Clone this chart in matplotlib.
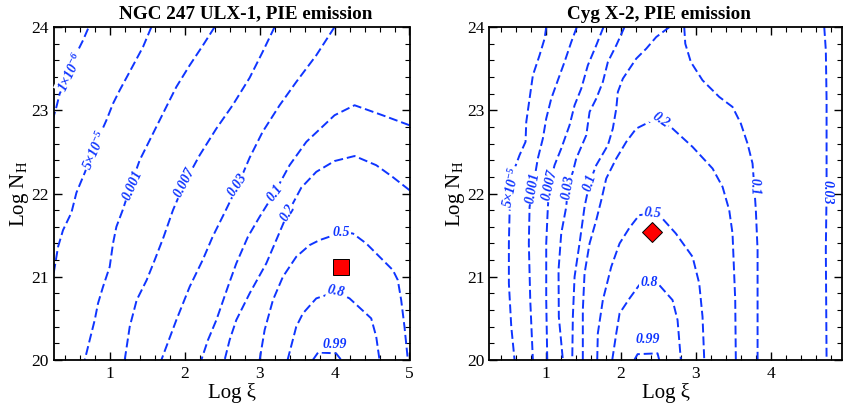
#!/usr/bin/env python
"""PIE emission contours in the (Log xi, Log N_H) plane for NGC 247 ULX-1 (left)
and Cyg X-2 (right); dashed blue iso-levels, best-fit point as a red marker."""
import matplotlib
matplotlib.use("Agg")
import matplotlib.pyplot as plt
from matplotlib.ticker import MultipleLocator

# --- NGC 247 ULX-1 contour paths (Log xi, Log N_H) ---
NGC_1E6 = [(0.711, 23.98), (0.644, 23.84), (0.577, 23.72), (0.48, 23.46), (0.333, 23.20),
           (0.289, 23.04), (0.244, 22.90)]
NGC_5E5 = [(1.556, 24.0), (1.444, 23.76), (1.289, 23.50), (1.133, 23.24), (1.044, 23.08),
           (0.956, 22.88), (0.822, 22.61), (0.667, 22.25), (0.556, 22.01), (0.489, 21.77),
           (0.377, 21.56), (0.311, 21.36), (0.267, 21.12), (0.244, 21.0)]
NGC_0001 = [(2.40, 24.0), (2.244, 23.78), (2.067, 23.54), (1.889, 23.28), (1.777, 23.08),
            (1.644, 22.84), (1.533, 22.64), (1.40, 22.40), (1.293, 22.13), (1.173, 21.80),
            (1.089, 21.60), (1.044, 21.40), (1.0, 21.12), (0.911, 20.88), (0.844, 20.68),
            (0.80, 20.48), (0.733, 20.24), (0.667, 20.0)]
NGC_0007 = [(3.2, 24.0), (3.04, 23.70), (2.867, 23.39), (2.64, 23.06), (2.423, 22.78),
            (2.2, 22.46), (2.0, 22.13), (1.844, 21.80), (1.72, 21.48), (1.6, 21.20),
            (1.493, 20.96), (1.36, 20.72), (1.267, 20.40), (1.2, 20.0)]
NGC_003 = [(4.0, 24.0), (3.756, 23.66), (3.489, 23.34), (3.267, 23.06), (3.04, 22.74),
           (2.867, 22.43), (2.711, 22.10), (2.533, 21.77), (2.373, 21.48), (2.24, 21.20),
           (2.067, 20.88), (1.889, 20.48), (1.689, 20.0)]
NGC_01 = [(5.0, 22.82), (4.64, 22.94), (4.267, 23.06), (4.0, 22.94), (3.623, 22.62),
          (3.4, 22.34), (3.2, 22.01), (3.0, 21.72), (2.844, 21.48), (2.689, 21.16),
          (2.577, 20.88), (2.423, 20.48), (2.311, 20.24), (2.222, 20.0)]
NGC_02 = [(5.0, 22.04), (4.773, 22.20), (4.556, 22.34), (4.267, 22.45), (4.0, 22.39),
          (3.756, 22.26), (3.556, 22.07), (3.378, 21.77), (3.222, 21.44), (3.089, 21.16),
          (2.867, 20.80), (2.689, 20.48), (2.6, 20.24), (2.533, 20.0)]
NGC_05 = [(3.0, 20.0), (3.067, 20.36), (3.178, 20.72), (3.311, 21.0), (3.489, 21.24),
          (3.667, 21.38), (3.8, 21.44), (4.089, 21.53), (4.244, 21.52), (4.423, 21.40),
          (4.6, 21.24), (4.778, 21.08), (4.844, 20.96), (4.889, 20.72), (4.933, 20.40),
          (4.978, 20.0)]
NGC_08 = [(3.373, 20.0), (3.489, 20.40), (3.578, 20.56), (3.756, 20.74), (4.023, 20.82),
          (4.2, 20.74), (4.489, 20.50), (4.556, 20.28), (4.6, 20.0)]
NGC_099 = [(3.71, 20.0), (3.78, 20.09), (4.02, 20.08), (4.09, 20.0)]
NGC_BEST = (4.09, 21.12)

# --- Cyg X-2 contour paths ---
CYG_5E5 = [(1.009, 24.0), (0.987, 23.86), (0.92, 23.66), (0.831, 23.42), (0.787, 23.14),
           (0.743, 22.86), (0.733, 22.62), (0.653, 22.46), (0.587, 22.30), (0.543, 22.07),
           (0.52, 21.76), (0.511, 21.40), (0.511, 20.92), (0.543, 20.40), (0.587, 20.0)]
CYG_0001 = [(1.417, 24.0), (1.343, 23.82), (1.253, 23.58), (1.164, 23.36), (1.076, 23.14),
            (1.009, 22.90), (0.964, 22.66), (0.897, 22.42), (0.831, 22.07), (0.787, 21.84),
            (0.777, 21.40), (0.796, 20.72), (0.831, 20.0)]
CYG_0007 = [(1.773, 24.0), (1.676, 23.78), (1.564, 23.54), (1.476, 23.26), (1.387, 23.06),
            (1.32, 22.82), (1.209, 22.54), (1.12, 22.34), (1.053, 22.10), (1.031, 21.84),
            (1.009, 21.40), (1.009, 20.72), (1.023, 20.0)]
CYG_003 = [(2.053, 24.0), (1.943, 23.78), (1.831, 23.58), (1.764, 23.34), (1.676, 23.14),
           (1.587, 22.98), (1.543, 22.70), (1.409, 22.42), (1.364, 22.26), (1.297, 22.07),
           (1.276, 21.84), (1.209, 21.52), (1.173, 21.08), (1.177, 20.52), (1.231, 20.0)]
CYG_01A = [(2.653, 24.0), (2.476, 23.88), (2.343, 23.74), (2.209, 23.62), (2.12, 23.50),
           (2.031, 23.38), (1.964, 23.22), (1.943, 23.02), (1.897, 22.78), (1.831, 22.58),
           (1.676, 22.34), (1.587, 22.13), (1.52, 21.84), (1.453, 21.40), (1.387, 21.00),
           (1.364, 20.52), (1.356, 20.0)]
CYG_01B = [(2.849, 24.0), (2.863, 23.80), (2.937, 23.58), (3.093, 23.36), (3.316, 23.16),
           (3.493, 23.04), (3.604, 22.84), (3.693, 22.60), (3.76, 22.36), (3.783, 22.08),
           (3.804, 21.80), (3.827, 21.32), (3.827, 20.72), (3.827, 20.0)]
CYG_02 = [(1.497, 20.0), (1.497, 20.60), (1.52, 21.04), (1.587, 21.40), (1.676, 21.68),
          (1.743, 21.92), (1.809, 22.18), (1.943, 22.42), (2.076, 22.62), (2.209, 22.78),
          (2.387, 22.86), (2.531, 22.88), (2.693, 22.78), (2.96, 22.56), (3.227, 22.30),
          (3.36, 22.08), (3.449, 21.80), (3.493, 21.52), (3.529, 20.72), (3.537, 20.0)]
CYG_05 = [(1.689, 20.0), (1.697, 20.32), (1.764, 20.72), (1.876, 21.12), (1.987, 21.40),
          (2.12, 21.59), (2.249, 21.74), (2.427, 21.76), (2.537, 21.72), (2.737, 21.52),
          (2.96, 21.24), (3.049, 20.92), (3.093, 20.52), (3.116, 20.0)]
CYG_08 = [(1.889, 20.0), (1.943, 20.32), (1.987, 20.56), (2.12, 20.74), (2.249, 20.90),
          (2.383, 20.93), (2.516, 20.90), (2.693, 20.72), (2.76, 20.48), (2.804, 20.0)]
CYG_099 = [(2.183, 20.0), (2.227, 20.07), (2.493, 20.08), (2.516, 20.0)]
CYG_003B = [(4.716, 24.0), (4.737, 23.72), (4.747, 23.12), (4.747, 22.02), (4.737, 21.32),
            (4.747, 20.0)]
CYG_BEST = (2.42, 21.54)

# contour labels: text, Log xi, Log N_H, screen rotation (deg)
NGC_LABELS = [(r"$1{\times}10^{-6}$", 0.48, 23.46, 64), (r"$5{\times}10^{-5}$", 0.807, 22.52, 66),
              ("0.001", 1.307, 22.10, 66), ("0.007", 2.0, 22.13, 63), ("0.03", 2.711, 22.10, 56),
              ("0.1", 3.213, 22.01, 52), ("0.2", 3.378, 21.77, 59), ("0.5", 4.089, 21.53, 0),
              ("0.8", 4.023, 20.82, -12), ("0.99", 4.0, 20.19, 0)]
CYG_LABELS = [(r"$5{\times}10^{-5}$", 0.543, 22.07, 78), ("0.001", 0.831, 22.07, 80),
              ("0.007", 1.053, 22.10, 77), ("0.03", 1.297, 22.07, 80), ("0.1", 1.587, 22.13, 72),
              ("0.2", 2.531, 22.88, -35), ("0.1", 3.783, 22.08, -88), ("0.03", 4.747, 22.02, -90),
              ("0.5", 2.427, 21.76, -5), ("0.8", 2.383, 20.93, 0), ("0.99", 2.36, 20.25, 0)]

BLUE = "#0f35ff"
plt.rcParams.update({"font.family": "Liberation Serif", "mathtext.fontset": "custom",
                     "mathtext.rm": "Liberation Serif:bold:italic",
                     "mathtext.it": "Liberation Serif:bold:italic",
                     "mathtext.bf": "Liberation Serif:bold:italic",
                     "axes.linewidth": 1.3, "xtick.direction": "in", "ytick.direction": "in",
                     "xtick.top": True, "ytick.right": True,
                     "xtick.major.size": 6, "ytick.major.size": 6,
                     "xtick.minor.size": 3.5, "ytick.minor.size": 3.5,
                     "xtick.major.width": 1.0, "ytick.major.width": 1.0,
                     "xtick.minor.width": 0.8, "ytick.minor.width": 0.8,
                     "xtick.labelsize": 12.5, "ytick.labelsize": 12.5,
                     "xtick.major.pad": 4.5, "ytick.major.pad": 3.5})


def panel(ax, paths, labels, best, marker, ms, title, title_x, xmax):
    for path in paths:
        xs = [p[0] for p in path]
        ys = [p[1] for p in path]
        ax.plot(xs, ys, color=BLUE, lw=1.4, dashes=(4.6, 2.0), dash_capstyle="butt", zorder=2)
    for txt, x, y, rot in labels:
        ax.text(x, y, txt, color=BLUE, fontsize=10, fontweight="bold", fontstyle="italic",
                rotation=rot, rotation_mode="anchor", ha="center", va="center", zorder=3,
                bbox=dict(boxstyle="square,pad=0.08", fc="white", ec="none"))
    ax.plot([best[0]], [best[1]], marker=marker, ms=ms, mfc="red", mec="black", mew=0.7,
            ls="", zorder=5)
    ax.set_xlim(0.25, xmax)
    ax.set_ylim(20, 24)
    ax.xaxis.set_major_locator(MultipleLocator(1))
    ax.xaxis.set_minor_locator(MultipleLocator(0.2))
    ax.yaxis.set_major_locator(MultipleLocator(1))
    ax.yaxis.set_minor_locator(MultipleLocator(0.2))
    ax.tick_params(which="both", top=True, right=True)
    ax.set_title(title, fontsize=13.8, fontweight="bold", x=title_x, pad=6)
    ax.set_xlabel("Log ξ", fontsize=15)
    ax.set_ylabel(r"Log N$_\mathregular{H}$", fontsize=15)
    ax.xaxis.set_label_coords(0.5, -0.07)
    ax.yaxis.set_label_coords(-0.064, 0.5)


fig = plt.figure(figsize=(8.43, 4.11), dpi=100)
ax1 = fig.add_axes([53.5 / 843, 51 / 411, 356 / 843, 333 / 411])
ax2 = fig.add_axes([489.3 / 843, 51 / 411, 352.5 / 843, 333 / 411])

panel(ax1, [NGC_1E6, NGC_5E5, NGC_0001, NGC_0007, NGC_003, NGC_01, NGC_02, NGC_05, NGC_08, NGC_099],
      NGC_LABELS, NGC_BEST, "s", 11.3, "NGC 247 ULX-1, PIE emission", 0.54, 5.0)
panel(ax2, [CYG_5E5, CYG_0001, CYG_0007, CYG_003, CYG_01A, CYG_01B, CYG_02, CYG_05, CYG_08,
            CYG_099, CYG_003B],
      CYG_LABELS, CYG_BEST, "D", 10.3, "Cyg X-2, PIE emission", 0.48, 4.95)

fig.savefig("out.png", dpi=100)
